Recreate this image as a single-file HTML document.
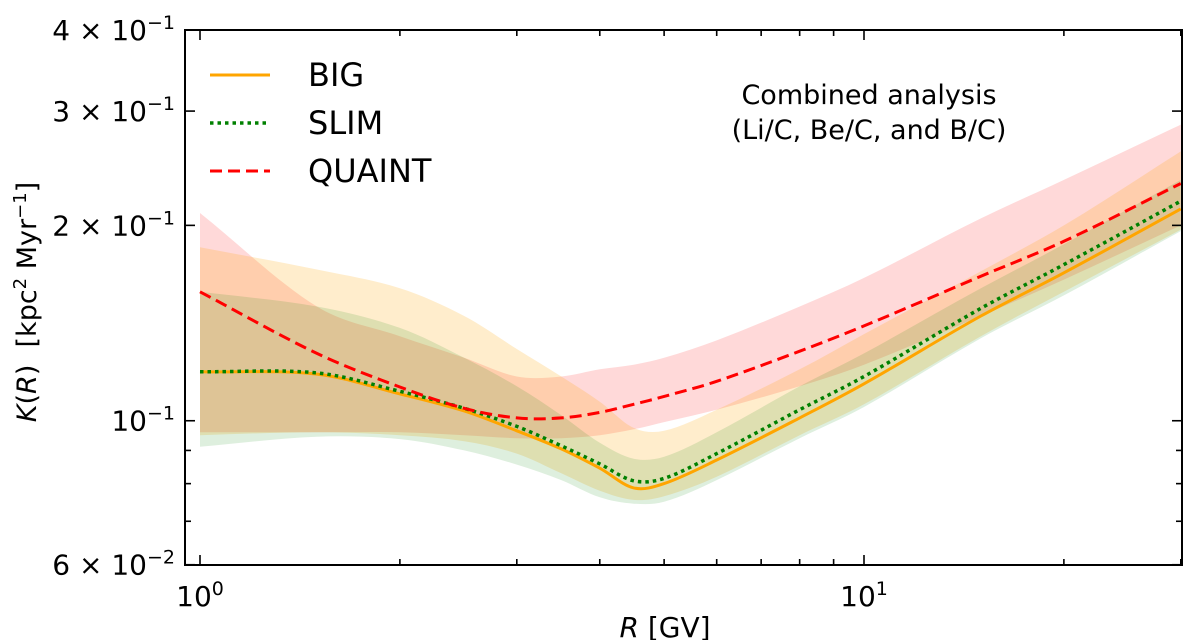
<!DOCTYPE html>
<html><head><meta charset="utf-8">
<style>
html,body{margin:0;padding:0;background:#fff;}
svg{display:block;font-family:"DejaVu Sans","Liberation Sans",sans-serif;}
</style></head>
<body>
<svg id="chart" width="1200" height="640" viewBox="0 0 1200 640">
<g id="bands"></g>
<g id="lines"></g>
<rect x="185" y="30" width="997" height="535" fill="none" stroke="#000" stroke-width="2"/>
<g id="ticks"></g>
<g>
  <line x1="210" y1="75" x2="270" y2="75" stroke="#FFA500" stroke-width="3"/>
  <text x="308" y="86" font-size="32">BIG</text>
  <line x1="210" y1="123" x2="270" y2="123" stroke="#008000" stroke-width="3.5" stroke-dasharray="3.5,4"/>
  <text x="308" y="134" font-size="32">SLIM</text>
  <line x1="210" y1="171" x2="270" y2="171" stroke="#ff0000" stroke-width="3" stroke-dasharray="12,6"/>
  <text x="308" y="182" font-size="32">QUAINT</text>
</g>
<text x="869" y="104" font-size="27" text-anchor="middle">Combined analysis</text>
<text x="869" y="139" font-size="27" text-anchor="middle">(Li/C, Be/C, and B/C)</text>
<text x="665" y="637" font-size="28" text-anchor="middle"><tspan font-style="italic">R</tspan> [GV]</text>
<text transform="translate(36,302) rotate(-90)" font-size="27" text-anchor="middle" xml:space="preserve"><tspan font-style="italic">K</tspan>(<tspan font-style="italic">R</tspan>)  [kpc<tspan baseline-shift="super" font-size="18">2</tspan> Myr<tspan baseline-shift="super" font-size="18">−1</tspan>]</text>
</svg>
<script>
const rigidity=[1,1.5,2,2.5,3,3.5,4,4.5,5,6,8,10,15,20,30];
const bigMid=[0.119,0.118,0.110,0.1035,0.0965,0.0905,0.0845,0.0788,0.080,0.087,0.101,0.114,0.145,0.169,0.212];
const bigUp=[0.185,0.171,0.160,0.145,0.129,0.117,0.107,0.0975,0.0965,0.104,0.120,0.136,0.170,0.200,0.260];
const bigLo=[0.095,0.096,0.095,0.093,0.089,0.083,0.078,0.0755,0.0765,0.082,0.095,0.106,0.135,0.158,0.197];
const slimMid=[0.119,0.1185,0.111,0.1045,0.098,0.0915,0.0858,0.0808,0.0815,0.089,0.104,0.117,0.149,0.174,0.218];
const slimUp=[0.158,0.150,0.139,0.125,0.113,0.102,0.0925,0.0874,0.088,0.096,0.113,0.127,0.160,0.187,0.235];
const slimLo=[0.0912,0.0945,0.0937,0.090,0.0856,0.081,0.0762,0.0745,0.075,0.081,0.094,0.105,0.134,0.156,0.196];
const quaintMid=[0.158,0.127,0.1127,0.1045,0.101,0.101,0.103,0.106,0.109,0.115,0.128,0.140,0.167,0.189,0.232];
const quaintUp=[0.209,0.150,0.135,0.125,0.117,0.117,0.120,0.122,0.125,0.133,0.150,0.166,0.205,0.235,0.286];
const quaintLo=[0.096,0.096,0.096,0.095,0.094,0.094,0.095,0.097,0.0995,0.104,0.113,0.122,0.145,0.165,0.200];
const yMajorVals=[0.06,0.1,0.2,0.3,0.4];
const yMajorLabels=[["6","−2"],["","−1"],["2","−1"],["3","−1"],["4","−1"]];
const yMinorVals=[0.07,0.08,0.09];
const xMajorVals=[1,10];
const xMajorLabels=["0","1"];
const xMinorVals=[2,3,4,5,6,7,8,9,20,30];

const NS="http://www.w3.org/2000/svg";
const X0=200,XD=664,YT=30,YD=649,YMAX=0.4;
const xs=r=>X0+XD*Math.log10(r);
const ys=v=>YT+YD*Math.log10(YMAX/v);
function smooth(pts){
  let d="M"+pts[0][0].toFixed(1)+","+pts[0][1].toFixed(1);
  for(let i=0;i<pts.length-1;i++){
    const p0=pts[Math.max(0,i-1)],p1=pts[i],p2=pts[i+1],p3=pts[Math.min(pts.length-1,i+2)];
    const h=p2[0]-p1[0];
    const s1=(p2[1]-p0[1])/(p2[0]-p0[0]||1), s2=(p3[1]-p1[1])/(p3[0]-p1[0]||1);
    const c1=[p1[0]+h/3,p1[1]+s1*h/3];
    const c2=[p2[0]-h/3,p2[1]-s2*h/3];
    d+="C"+c1[0].toFixed(1)+","+c1[1].toFixed(1)+" "+c2[0].toFixed(1)+","+c2[1].toFixed(1)+" "+p2[0].toFixed(1)+","+p2[1].toFixed(1);
  }
  return d;
}
function pts(vals){return rigidity.map((r,i)=>[xs(r),ys(vals[i])]);}
const bands=document.getElementById('bands');
function band(up,lo,color,op,name){
  const u=pts(up), l=pts(lo).reverse();
  const d=smooth(u)+"L"+smooth(l).slice(1)+"Z";
  const p=document.createElementNS(NS,'path');
  p.setAttribute('d',d);p.setAttribute('fill',color);p.setAttribute('fill-opacity',op);
  
  
  bands.appendChild(p);
}
band(quaintUp,quaintLo,'#ff0000',0.15,'quaint-band');
band(bigUp,bigLo,'#FFA500',0.2,'big-band');
band(slimUp,slimLo,'#008000',0.13,'slim-band');
const lines=document.getElementById('lines');
function line(vals,color,w,dash,name){
  const p=document.createElementNS(NS,'path');
  p.setAttribute('d',smooth(pts(vals)));p.setAttribute('fill','none');
  p.setAttribute('stroke',color);p.setAttribute('stroke-width',w);
  if(dash)p.setAttribute('stroke-dasharray',dash);
  
  
  lines.appendChild(p);
}
line(bigMid,'#FFA500',3,null,'big-line');
line(slimMid,'#008000',3.5,'3.5,4','slim-line');
line(quaintMid,'#ff0000',3,'12,6','quaint-line');

const ticks=document.getElementById('ticks');
function tl(x1,y1,x2,y2){
  const l=document.createElementNS(NS,'line');
  l.setAttribute('x1',x1);l.setAttribute('y1',y1);l.setAttribute('x2',x2);l.setAttribute('y2',y2);
  l.setAttribute('stroke','#000');l.setAttribute('stroke-width','1.6');
  
  
  ticks.appendChild(l);
}
function label(x,y,anchor,base,exp,name){
  const t=document.createElementNS(NS,'text');
  t.setAttribute('x',x);t.setAttribute('y',y);t.setAttribute('text-anchor',anchor);t.setAttribute('font-size','28');
  t.innerHTML=base+'<tspan baseline-shift="super" font-size="19">'+exp+'</tspan>';
  
  
  ticks.appendChild(t);
}
yMajorVals.forEach((v,i)=>{
  const y=ys(v);
  tl(185,y,195,y);tl(1182,y,1172,y);
  const b=yMajorLabels[i][0];
  label(175,y+10,'end',(b?b+' × ':'')+'10',yMajorLabels[i][1],'y-tick-label');
});
yMinorVals.forEach(v=>{const y=ys(v);tl(185,y,191,y);tl(1182,y,1176,y);});
xMajorVals.forEach((r,i)=>{
  const x=xs(r);tl(x,565,x,555);tl(x,30,x,40);
  label(x,606,'middle','10',xMajorLabels[i],'x-tick-label');
});
xMinorVals.forEach(r=>{const x=xs(r);tl(x,565,x,559);tl(x,30,x,36);});
</script>
</body></html>
